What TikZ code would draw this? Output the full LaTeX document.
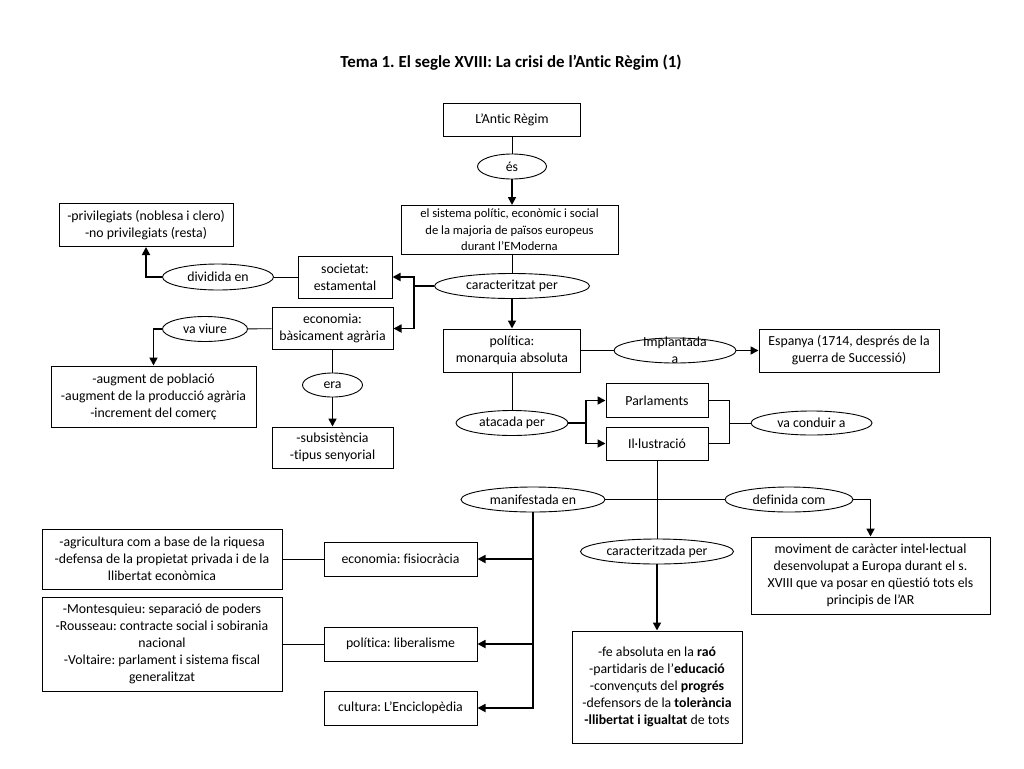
\documentclass[tikz,border=0pt]{standalone}
\usepackage{fontspec}
\setmainfont{Carlito}[Ligatures=NoCommon]
\usetikzlibrary{arrows.meta, positioning, shapes.geometric}
\frenchspacing

\begin{document}
\begin{tikzpicture}[x=1pt, y=-1pt, >={Triangle[length=8pt, width=8pt]},
  box/.style={draw, line width=1pt, rectangle, align=center, inner sep=0pt,
    font=\fontsize{13.8}{17}\selectfont},
  link/.style={draw, line width=0.9pt, ellipse, inner sep=0pt,
    font=\fontsize{13.8}{17}\selectfont},
  arr/.style={->, line width=1.7pt},
  plain/.style={line width=0.9pt}]

\useasboundingbox[fill=white] (0,0) rectangle (1024,768);

% title
\node[font=\fontsize{16.9}{20}\selectfont\bfseries] (title) at (511,63)
  {Tema 1. El segle XVIII: La crisi de l’Antic Règim (1)};

% central column
\node[box, minimum width=137pt, minimum height=33pt] (antic) at (512,119.5) {L’Antic Règim};
\node[link, minimum width=69pt, minimum height=25pt] (es) at (512,166.5) {és};
\node[box, minimum width=217pt, minimum height=49pt, font=\fontsize{12.6}{16.5}\selectfont] (sistema) at (509.5,230)
  {el sistema polític, econòmic i social\\de la majoria de països europeus\\durant l’EModerna};
\node[link, minimum width=155pt, minimum height=25pt] (carac) at (512,286) {caracteritzat per};
\node[box, minimum width=137pt, minimum height=43pt] (politica) at (512,350.5)
  {política:\\monarquia absoluta};
\node[link, minimum width=112pt, minimum height=25pt] (atacada) at (512,423) {atacada per};

% society and economy (left)
\node[box, minimum width=94pt, minimum height=42pt] (societat) at (345,277) {societat:\\estamental};
\node[link, minimum width=111pt, minimum height=26pt] (dividida) at (218,277) {dividida en};
\node[box, minimum width=174pt, minimum height=43pt] (privilegiats) at (146,225)
  {-privilegiats (noblesa i clero)\\-no privilegiats (resta)};
\node[box, minimum width=121pt, minimum height=42pt] (economia) at (332.5,328.5)
  {economia:\\bàsicament agrària};
\node[link, minimum width=85pt, minimum height=25pt] (vaviure) at (205,329) {va viure};
\node[box, minimum width=205pt, minimum height=61pt] (augment) at (153.5,396.5)
  {-augment de població\\-augment de la producció agrària\\-increment del comerç};
\node[link, minimum width=60pt, minimum height=24pt] (era) at (332.5,385) {era};
\node[box, minimum width=121pt, minimum height=41pt] (subsist) at (332.5,447.5)
  {-subsistència\\-tipus senyorial};

% politics (right)
\node[link, minimum width=122pt, minimum height=25pt] (implant) at (675,350.5) {};
\node[font=\fontsize{13.8}{17}\selectfont, align=center, inner sep=0pt] (implanttxt) at (implant)
  {Implantada\\a};
\node[box, minimum width=180pt, minimum height=43pt] (espanya) at (849,350.5)
  {Espanya (1714, després de la\\guerra de Successió)};

% attacks
\node[box, minimum width=102pt, minimum height=34pt] (parl) at (657,400.5) {Parlaments};
\node[box, minimum width=102pt, minimum height=33pt] (illus) at (657,443.5) {Il·lustració};
\node[link, minimum width=121pt, minimum height=24pt] (conduir) at (811.5,423) {va conduir a};

% enlightenment
\node[link, minimum width=144pt, minimum height=25pt] (manif) at (533,499.5) {manifestada en};
\node[link, minimum width=128pt, minimum height=25pt] (defin) at (789,499.5) {definida com};
\node[link, minimum width=153pt, minimum height=25pt] (caract) at (657,551.5) {caracteritzada per};
\node[box, minimum width=239pt, minimum height=77pt] (moviment) at (870.5,575.5)
  {moviment de caràcter intel·lectual\\desenvolupat a Europa durant el s.\\XVIII que va posar en qüestió tots els\\principis de l’AR};
\node[box, minimum width=170pt, minimum height=112pt] (fe) at (657,687)
  {-fe absoluta en la \textbf{raó}\\-partidaris de l’\textbf{educació}\\-convençuts del \textbf{progrés}\\-defensors de la \textbf{tolerància}\\\textbf{-llibertat i igualtat} de tots};
\node[box, minimum width=153pt, minimum height=34pt] (fisio) at (400.5,559) {economia: fisiocràcia};
\node[box, minimum width=153pt, minimum height=34pt] (libera) at (400.5,644) {política: liberalisme};
\node[box, minimum width=153pt, minimum height=34pt] (cultura) at (400.5,708) {cultura: L’Enciclopèdia};
\node[box, minimum width=240pt, minimum height=60pt] (agri) at (162,559)
  {-agricultura com a base de la riquesa\\-defensa de la propietat privada i de la\\llibertat econòmica};
\node[box, minimum width=240pt, minimum height=94pt] (montes) at (162,644)
  {-Montesquieu: separació de poders\\-Rousseau: contracte social i sobirania\\nacional\\-Voltaire: parlament i sistema fiscal\\generalitzat};

% junctions
\coordinate (cj) at (414,286);
\coordinate (aj) at (586,423);
\coordinate (vj) at (729,423);
\coordinate (dj) at (870.5,499.5);

% connectors
\draw[plain] (antic) -- (es);
\draw[arr] (es) -- (es |- sistema.north);
\draw[plain] (carac |- sistema.south) -- (carac);
\draw[arr] (carac) -- (politica);
\draw[arr] (carac.west) -- (cj) |- (societat.east);
\draw[arr] (cj) |- (economia.east);
\draw[plain] (societat) -- (dividida);
\draw[arr] (dividida.west) -| (privilegiats.south);
\draw[plain] (economia) -- (vaviure);
\draw[arr] (vaviure.west) -| (augment.north);
\draw[plain] (economia) -- (era);
\draw[arr] (era) -- (subsist);
\draw[plain] (politica) -- (implant);
\draw[arr] (implant) -- (espanya);
\draw[plain] (politica) -- (atacada);
\draw[arr] (atacada.east) -- (aj) |- (parl.west);
\draw[arr] (aj) |- (illus.west);
\draw[plain] (parl.east) -| (vj) |- (illus.east);
\draw[plain] (vj) -- (conduir);
\draw[plain] (illus) -- (caract);
\draw[plain] (manif) -- (defin);
\draw[arr] (defin.east) -- (dj) -- (moviment.north);
\draw[arr] (caract) -- (fe);
\draw[arr] (manif.south) |- (cultura.east);
\draw[arr] (manif.south |- fisio.east) -- (fisio.east);
\draw[arr] (manif.south |- libera.east) -- (libera.east);
\draw[plain] (agri) -- (fisio);
\draw[plain] (montes) -- (libera);

\end{tikzpicture}
\end{document}
